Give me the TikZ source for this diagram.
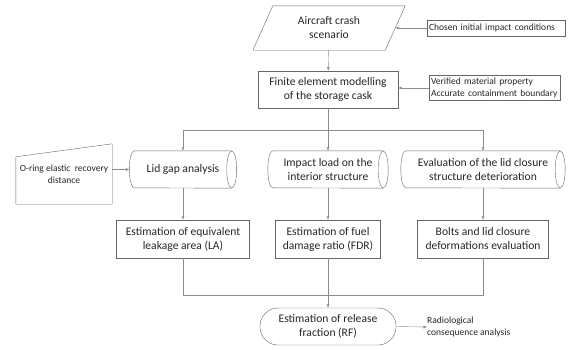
\documentclass[tikz,border=0pt]{standalone}
\usepackage{fontspec}
\setmainfont{Carlito}
\usetikzlibrary{arrows.meta}
\tikzset{
  box/.style={draw=black!60, rectangle, align=center, inner sep=1pt, text=black!85,
    font=\fontsize{11.6}{14}\selectfont},
  bare/.style={box, draw=none},
  tube/.style={bare, minimum height=37pt},
  note/.style={draw=black!60, align=left, inner sep=2pt, text=black!85,
    font=\fontsize{9.5}{12.5}\selectfont},
  outline/.style={draw=black!60},
  line/.style={draw=black!45},
  link/.style={draw=black!45, -{Latex[length=3.5pt,width=3pt]}},
}
\begin{document}
\begin{tikzpicture}[x=1pt,y=-1pt]
  \useasboundingbox (0,0) rectangle (568,349);
  \node[bare, minimum width=132pt, minimum height=44pt] (crash) at (329,28) {Aircraft crash\\scenario};
  \node[note, text width=134pt, minimum height=16pt] (chosen) at (496,28) {Chosen initial impact conditions};
  \node[box, minimum width=140pt, minimum height=37pt] (fem) at (328,89.5) {Finite element modelling\\of the storage cask};
  \node[note, text width=127pt, minimum height=24pt] (verified) at (494.5,88) {Verified material property\\Accurate containment boundary};
  \node[tube, minimum width=97pt] (lid) at (183,169.5) {Lid gap analysis};
  \node[tube, minimum width=110pt] (impact) at (328,169.5) {Impact load on the\\interior structure};
  \node[tube, minimum width=154pt] (closure) at (483,169.5) {Evaluation of the lid closure\\structure deterioration};
  \node[align=center, inner sep=0pt, minimum width=96pt, minimum height=60pt, text=black!85,
    font=\fontsize{9.5}{12.5}\selectfont] (oring) at (64,174) {O-ring elastic\ \ recovery\\distance};
  \node[box, minimum width=133pt, minimum height=38pt] (la) at (183,239) {Estimation of equivalent\\leakage area (LA)};
  \node[box, minimum width=105pt, minimum height=38pt] (fdr) at (328,239) {Estimation of fuel\\damage ratio (FDR)};
  \node[box, minimum width=131pt, minimum height=38pt] (bolts) at (483,239) {Bolts and lid closure\\deformations evaluation};
  \node[box, rounded corners=18pt, minimum width=136pt, minimum height=37pt] (rf) at (328,326.5) {Estimation of release\\fraction (RF)};
  \node[align=left, anchor=west, inner sep=0pt, text=black!85, font=\fontsize{9.5}{12.5}\selectfont] (radio) at (427,327) {Radiological\\consequence analysis};
  \coordinate (split) at (328,130);
  \coordinate (join) at (328,295);

  % data shape
  \draw[outline] ([xshift=-10pt]crash.south west) -- ([xshift=10pt]crash.north west)
    -- ([xshift=10pt]crash.north east) -- ([xshift=-10pt]crash.south east) -- cycle;
  % manual input
  \draw[outline] (oring.south west) -- (oring.south east) -- (oring.north east)
    -- ([yshift=-13pt]oring.north west) -- cycle;
  % stored data
  \foreach \t in {lid,impact,closure}{
    \draw[outline] (\t.north east) -- (\t.north west)
      arc[start angle=90, end angle=270, x radius=5pt, y radius=18.5pt] -- (\t.south east);
    \draw[outline] (\t.east) ellipse[x radius=5pt, y radius=18.5pt];
  }

  \draw[link] (crash) to (fem);
  \draw[link] (chosen.west) to (crash.east);
  \draw[link] (verified.west) to (verified.west -| fem.east);
  \draw[line] (fem.south) to (split);
  \draw[link] (split) -| (lid.north);
  \draw[link] (split) -| (impact.north);
  \draw[link] (split) -| (closure.north);
  \draw[link] (oring.east |- lid.west) to ([xshift=-5pt]lid.west);
  \draw[link] (lid.south) to (la.north);
  \draw[link] (impact.south) to (fdr.north);
  \draw[link] (closure.south) to (bolts.north);
  \draw[line] (la.south) |- (join);
  \draw[line] (bolts.south) |- (join);
  \draw[link] (fdr.south) to (rf.north);
  \draw[link] (rf.east) to (radio.west);
\end{tikzpicture}
\end{document}
